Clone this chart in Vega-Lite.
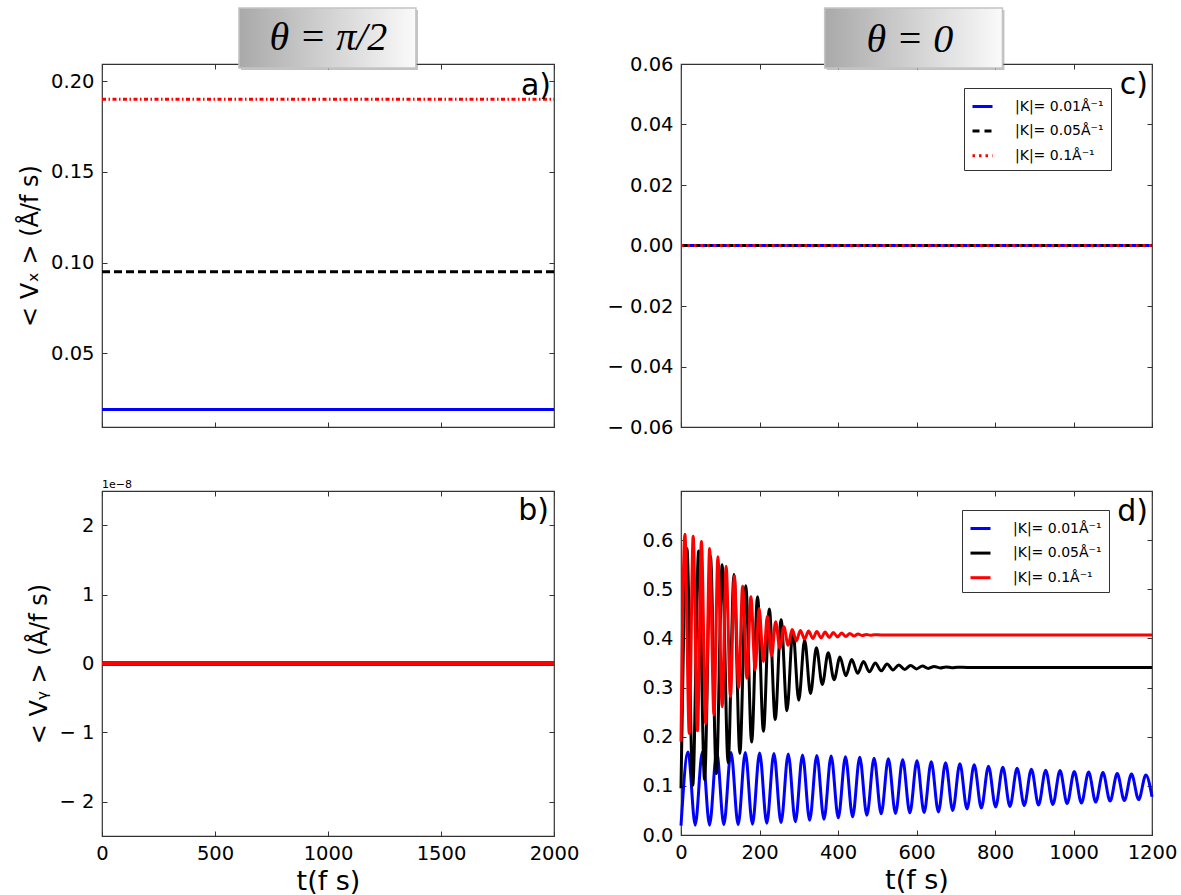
{
  "$schema": "https://vega.github.io/schema/vega-lite/v6.json",
  "background": "white",
  "padding": {"left": 17, "top": 6, "right": 5, "bottom": 0},
  "config": {
    "view": {"stroke": "#333", "strokeWidth": 1.2},
    "axis": {"grid": false, "domain": false, "ticks": true, "tickSize": -5, "tickColor": "#333", "tickWidth": 1, "labelFont": "DejaVu Sans", "labelFontSize": 19.5, "labelColor": "#000", "labelPadding": 13, "labelFlush": false, "labelOverlap": false, "titleFont": "DejaVu Sans", "titleFontWeight": "normal", "titleColor": "#000"},
    "axisBottom": {"labelPadding": 13},
    "text": {"font": "DejaVu Sans"}
  },
  "datasets": {
    "flat": [
      {"p": "a", "k": "0.01", "t": 0, "v": 0.019}, {"p": "a", "k": "0.01", "t": 2000, "v": 0.019},
      {"p": "a", "k": "0.05", "t": 0, "v": 0.095}, {"p": "a", "k": "0.05", "t": 2000, "v": 0.095},
      {"p": "a", "k": "0.1", "t": 0, "v": 0.19}, {"p": "a", "k": "0.1", "t": 2000, "v": 0.19},
      {"p": "b", "k": "0.01", "t": 0, "v": 0}, {"p": "b", "k": "0.01", "t": 2000, "v": 0},
      {"p": "b", "k": "0.05", "t": 0, "v": 0}, {"p": "b", "k": "0.05", "t": 2000, "v": 0},
      {"p": "b", "k": "0.1", "t": 0, "v": 0}, {"p": "b", "k": "0.1", "t": 2000, "v": 0},
      {"p": "c", "k": "0.01", "t": 0, "v": 0}, {"p": "c", "k": "0.01", "t": 1200, "v": 0},
      {"p": "c", "k": "0.05", "t": 0, "v": 0}, {"p": "c", "k": "0.05", "t": 1200, "v": 0},
      {"p": "c", "k": "0.1", "t": 0, "v": 0}, {"p": "c", "k": "0.1", "t": 1200, "v": 0}
    ],
    "dd": [
      {"k": "0.01", "t": 0, "v": 0.019}, {"k": "0.01", "t": 18, "v": 0.169}, {"k": "0.01", "t": 36.2, "v": 0.020}, {"k": "0.01", "t": 54.5, "v": 0.169},
      {"k": "0.01", "t": 72.7, "v": 0.020}, {"k": "0.01", "t": 91, "v": 0.169}, {"k": "0.01", "t": 109.1, "v": 0.021}, {"k": "0.01", "t": 127.4, "v": 0.168},
      {"k": "0.01", "t": 145.6, "v": 0.021}, {"k": "0.01", "t": 163.8, "v": 0.168}, {"k": "0.01", "t": 182, "v": 0.022}, {"k": "0.01", "t": 200.3, "v": 0.167},
      {"k": "0.01", "t": 218.5, "v": 0.024}, {"k": "0.01", "t": 236.7, "v": 0.166}, {"k": "0.01", "t": 254.9, "v": 0.025}, {"k": "0.01", "t": 273.2, "v": 0.165},
      {"k": "0.01", "t": 291.4, "v": 0.027}, {"k": "0.01", "t": 309.6, "v": 0.163}, {"k": "0.01", "t": 327.8, "v": 0.030}, {"k": "0.01", "t": 346, "v": 0.162},
      {"k": "0.01", "t": 364.3, "v": 0.032}, {"k": "0.01", "t": 382.5, "v": 0.161}, {"k": "0.01", "t": 400.7, "v": 0.035}, {"k": "0.01", "t": 419, "v": 0.159},
      {"k": "0.01", "t": 437.2, "v": 0.037}, {"k": "0.01", "t": 455.4, "v": 0.158}, {"k": "0.01", "t": 473.6, "v": 0.040}, {"k": "0.01", "t": 491.9, "v": 0.156},
      {"k": "0.01", "t": 510, "v": 0.043}, {"k": "0.01", "t": 528.3, "v": 0.155}, {"k": "0.01", "t": 546.5, "v": 0.044}, {"k": "0.01", "t": 564.8, "v": 0.153},
      {"k": "0.01", "t": 583, "v": 0.045}, {"k": "0.01", "t": 601.2, "v": 0.151}, {"k": "0.01", "t": 619.4, "v": 0.046}, {"k": "0.01", "t": 637.6, "v": 0.149},
      {"k": "0.01", "t": 655.8, "v": 0.047}, {"k": "0.01", "t": 674.1, "v": 0.147}, {"k": "0.01", "t": 692.3, "v": 0.050}, {"k": "0.01", "t": 710.5, "v": 0.145},
      {"k": "0.01", "t": 728.7, "v": 0.053}, {"k": "0.01", "t": 747, "v": 0.143}, {"k": "0.01", "t": 765.2, "v": 0.055}, {"k": "0.01", "t": 783.4, "v": 0.140},
      {"k": "0.01", "t": 801.6, "v": 0.057}, {"k": "0.01", "t": 819.9, "v": 0.138}, {"k": "0.01", "t": 838, "v": 0.058}, {"k": "0.01", "t": 856.3, "v": 0.136},
      {"k": "0.01", "t": 874.5, "v": 0.060}, {"k": "0.01", "t": 892.7, "v": 0.134}, {"k": "0.01", "t": 911, "v": 0.061}, {"k": "0.01", "t": 929.2, "v": 0.132},
      {"k": "0.01", "t": 947.4, "v": 0.062}, {"k": "0.01", "t": 965.6, "v": 0.131}, {"k": "0.01", "t": 983.8, "v": 0.064}, {"k": "0.01", "t": 1002, "v": 0.129},
      {"k": "0.01", "t": 1020.3, "v": 0.065}, {"k": "0.01", "t": 1038.5, "v": 0.128}, {"k": "0.01", "t": 1056.7, "v": 0.067}, {"k": "0.01", "t": 1075, "v": 0.127},
      {"k": "0.01", "t": 1093.2, "v": 0.069}, {"k": "0.01", "t": 1111.4, "v": 0.125}, {"k": "0.01", "t": 1129.6, "v": 0.070}, {"k": "0.01", "t": 1147.8, "v": 0.124},
      {"k": "0.01", "t": 1166, "v": 0.072}, {"k": "0.01", "t": 1184.4, "v": 0.122}, {"k": "0.01", "t": 1200, "v": 0.078},
      {"k": "0.05", "t": 0, "v": 0.095}, {"k": "0.05", "t": 15, "v": 0.583}, {"k": "0.05", "t": 30, "v": 0.101}, {"k": "0.05", "t": 45, "v": 0.578},
      {"k": "0.05", "t": 60, "v": 0.113}, {"k": "0.05", "t": 75, "v": 0.567}, {"k": "0.05", "t": 90, "v": 0.125}, {"k": "0.05", "t": 105, "v": 0.550},
      {"k": "0.05", "t": 120, "v": 0.147}, {"k": "0.05", "t": 135, "v": 0.530}, {"k": "0.05", "t": 150, "v": 0.166}, {"k": "0.05", "t": 165, "v": 0.507},
      {"k": "0.05", "t": 180, "v": 0.189}, {"k": "0.05", "t": 195, "v": 0.485}, {"k": "0.05", "t": 210, "v": 0.211}, {"k": "0.05", "t": 225, "v": 0.460},
      {"k": "0.05", "t": 240, "v": 0.235}, {"k": "0.05", "t": 255, "v": 0.438}, {"k": "0.05", "t": 270, "v": 0.253}, {"k": "0.05", "t": 285, "v": 0.416},
      {"k": "0.05", "t": 300, "v": 0.274}, {"k": "0.05", "t": 315, "v": 0.397}, {"k": "0.05", "t": 330, "v": 0.288}, {"k": "0.05", "t": 345, "v": 0.381},
      {"k": "0.05", "t": 360, "v": 0.306}, {"k": "0.05", "t": 375, "v": 0.371}, {"k": "0.05", "t": 390, "v": 0.316}, {"k": "0.05", "t": 405, "v": 0.362},
      {"k": "0.05", "t": 420, "v": 0.324}, {"k": "0.05", "t": 435, "v": 0.357}, {"k": "0.05", "t": 450, "v": 0.329}, {"k": "0.05", "t": 465, "v": 0.353},
      {"k": "0.05", "t": 480, "v": 0.332}, {"k": "0.05", "t": 495, "v": 0.350}, {"k": "0.05", "t": 510, "v": 0.334}, {"k": "0.05", "t": 525, "v": 0.348},
      {"k": "0.05", "t": 540, "v": 0.336}, {"k": "0.05", "t": 555, "v": 0.346}, {"k": "0.05", "t": 570, "v": 0.337}, {"k": "0.05", "t": 585, "v": 0.345},
      {"k": "0.05", "t": 600, "v": 0.338}, {"k": "0.05", "t": 615, "v": 0.344}, {"k": "0.05", "t": 630, "v": 0.339}, {"k": "0.05", "t": 645, "v": 0.343},
      {"k": "0.05", "t": 660, "v": 0.340}, {"k": "0.05", "t": 675, "v": 0.342}, {"k": "0.05", "t": 690, "v": 0.3405}, {"k": "0.05", "t": 705, "v": 0.3415},
      {"k": "0.05", "t": 730, "v": 0.341}, {"k": "0.05", "t": 1200, "v": 0.341},
      {"k": "0.1", "t": 0, "v": 0.190}, {"k": "0.1", "t": 10, "v": 0.612}, {"k": "0.1", "t": 21, "v": 0.207}, {"k": "0.1", "t": 31, "v": 0.608},
      {"k": "0.1", "t": 42, "v": 0.212}, {"k": "0.1", "t": 52, "v": 0.597}, {"k": "0.1", "t": 63, "v": 0.227}, {"k": "0.1", "t": 73, "v": 0.583},
      {"k": "0.1", "t": 84, "v": 0.244}, {"k": "0.1", "t": 94, "v": 0.566}, {"k": "0.1", "t": 105, "v": 0.261}, {"k": "0.1", "t": 115, "v": 0.547},
      {"k": "0.1", "t": 126, "v": 0.281}, {"k": "0.1", "t": 136, "v": 0.527}, {"k": "0.1", "t": 147, "v": 0.300}, {"k": "0.1", "t": 157, "v": 0.506},
      {"k": "0.1", "t": 168, "v": 0.319}, {"k": "0.1", "t": 178, "v": 0.485}, {"k": "0.1", "t": 189, "v": 0.336}, {"k": "0.1", "t": 199, "v": 0.461},
      {"k": "0.1", "t": 210, "v": 0.353}, {"k": "0.1", "t": 220, "v": 0.445}, {"k": "0.1", "t": 231, "v": 0.365}, {"k": "0.1", "t": 241, "v": 0.434},
      {"k": "0.1", "t": 252, "v": 0.380}, {"k": "0.1", "t": 262, "v": 0.424}, {"k": "0.1", "t": 273, "v": 0.386}, {"k": "0.1", "t": 283, "v": 0.418},
      {"k": "0.1", "t": 294, "v": 0.395}, {"k": "0.1", "t": 304, "v": 0.416}, {"k": "0.1", "t": 315, "v": 0.399}, {"k": "0.1", "t": 325, "v": 0.415},
      {"k": "0.1", "t": 336, "v": 0.400}, {"k": "0.1", "t": 346, "v": 0.414}, {"k": "0.1", "t": 357, "v": 0.401}, {"k": "0.1", "t": 367, "v": 0.413},
      {"k": "0.1", "t": 378, "v": 0.402}, {"k": "0.1", "t": 388, "v": 0.412}, {"k": "0.1", "t": 399, "v": 0.403}, {"k": "0.1", "t": 409, "v": 0.411},
      {"k": "0.1", "t": 420, "v": 0.404}, {"k": "0.1", "t": 430, "v": 0.410}, {"k": "0.1", "t": 441, "v": 0.405}, {"k": "0.1", "t": 451, "v": 0.409},
      {"k": "0.1", "t": 462, "v": 0.406}, {"k": "0.1", "t": 472, "v": 0.408}, {"k": "0.1", "t": 483, "v": 0.4065}, {"k": "0.1", "t": 493, "v": 0.4075},
      {"k": "0.1", "t": 510, "v": 0.407}, {"k": "0.1", "t": 1200, "v": 0.407}
    ]
  },
  "columns": 2,
  "spacing": {"row": 64, "column": 127},
  "bounds": "flush",
  "resolve": {"scale": {"x": "independent", "y": "independent", "color": "independent", "strokeDash": "independent", "strokeWidth": "independent"}, "legend": {"color": "independent", "strokeDash": "independent"}},
  "concat": [
    {
      "width": 452, "height": 363,
      "layer": [
        {"data": {"values": [{}]}, "mark": {"type": "rect", "color": "#777777", "opacity": 0.45},
         "encoding": {"x": {"datum": 615, "type": "quantitative", "axis": null}, "x2": {"datum": 1398}, "y": {"datum": 0.2061, "type": "quantitative", "axis": null}, "y2": {"datum": 0.2392}}},
        {"data": {"values": [{}]}, "mark": {"type": "rect", "fill": {"gradient": "linear", "x1": 0, "y1": 0, "x2": 1, "y2": 0, "stops": [{"offset": 0, "color": "#a9a9a9"}, {"offset": 1, "color": "#fafafa"}]}, "stroke": "#c4c4c4", "strokeWidth": 1.5},
         "encoding": {"x": {"datum": 606, "type": "quantitative", "axis": null}, "x2": {"datum": 1389}, "y": {"datum": 0.2072, "type": "quantitative", "axis": null}, "y2": {"datum": 0.2403}}},
        {"data": {"values": [{}]}, "mark": {"type": "text", "text": "θ = π/2", "font": "Liberation Serif", "fontStyle": "italic", "fontSize": 40, "align": "center", "baseline": "middle", "color": "#000"},
         "encoding": {"x": {"datum": 1002, "type": "quantitative", "axis": null}, "y": {"datum": 0.2237, "type": "quantitative", "axis": null}}},
        {"data": {"name": "flat"}, "transform": [{"filter": "datum.p === 'a'"}],
         "mark": {"type": "line", "strokeWidth": 3},
         "encoding": {
           "x": {"field": "t", "type": "quantitative", "scale": {"domain": [0, 2000], "nice": false}, "axis": {"orient": "bottom", "values": [0, 500, 1000, 1500, 2000], "labels": false, "title": null}},
           "y": {"field": "v", "type": "quantitative", "scale": {"domain": [0.0094, 0.2094], "nice": false, "zero": false}, "axis": {"orient": "left", "values": [0.05, 0.1, 0.15, 0.2], "format": ".2f", "title": "< Vₓ > (Å/f s)", "titleFontSize": 24, "titlePadding": 8}},
           "color": {"field": "k", "type": "nominal", "scale": {"domain": ["0.01", "0.05", "0.1"], "range": ["#0000ff", "#000000", "#ff0000"]}, "legend": null},
           "strokeDash": {"field": "k", "type": "nominal", "scale": {"domain": ["0.01", "0.05", "0.1"], "range": [[1, 0], [8, 4], [4, 2.5, 1.5, 2.5]]}, "legend": null}
         }},
        {"data": {"name": "flat"}, "transform": [{"filter": "datum.p === 'a'"}],
         "mark": {"type": "line", "opacity": 0},
         "encoding": {
           "x": {"field": "t", "type": "quantitative", "axis": {"orient": "top", "values": [0, 500, 1000, 1500, 2000], "labels": false, "title": null}},
           "y": {"field": "v", "type": "quantitative", "axis": {"orient": "right", "values": [0.05, 0.1, 0.15, 0.2], "labels": false, "title": null}}
         }},
        {"data": {"values": [{}]}, "mark": {"type": "text", "text": "a)", "fontSize": 30, "align": "right", "baseline": "alphabetic", "color": "#000"},
         "encoding": {"x": {"datum": 1987, "type": "quantitative", "axis": null}, "y": {"datum": 0.1923, "type": "quantitative", "axis": null}}}
      ],
      "resolve": {"axis": {"x": "independent", "y": "independent"}}
    },
    {
      "width": 471, "height": 363,
      "layer": [
        {"data": {"values": [{}]}, "mark": {"type": "rect", "color": "#777777", "opacity": 0.45},
         "encoding": {"x": {"datum": 371, "type": "quantitative", "axis": null}, "x2": {"datum": 824}, "y": {"datum": 0.05802, "type": "quantitative", "axis": null}, "y2": {"datum": 0.07785}}},
        {"data": {"values": [{}]}, "mark": {"type": "rect", "fill": {"gradient": "linear", "x1": 0, "y1": 0, "x2": 1, "y2": 0, "stops": [{"offset": 0, "color": "#a9a9a9"}, {"offset": 1, "color": "#fafafa"}]}, "stroke": "#c4c4c4", "strokeWidth": 1.5},
         "encoding": {"x": {"datum": 366, "type": "quantitative", "axis": null}, "x2": {"datum": 819}, "y": {"datum": 0.05868, "type": "quantitative", "axis": null}, "y2": {"datum": 0.07851}}},
        {"data": {"values": [{}]}, "mark": {"type": "text", "text": "θ = 0", "font": "Liberation Serif", "fontStyle": "italic", "fontSize": 40, "align": "center", "baseline": "middle", "color": "#000"},
         "encoding": {"x": {"datum": 583, "type": "quantitative", "axis": null}, "y": {"datum": 0.0679, "type": "quantitative", "axis": null}}},
        {"data": {"name": "flat"}, "transform": [{"filter": "datum.p === 'c'"}],
         "mark": {"type": "line", "strokeWidth": 3},
         "encoding": {
           "x": {"field": "t", "type": "quantitative", "scale": {"domain": [0, 1200], "nice": false}, "axis": {"orient": "bottom", "values": [0, 200, 400, 600, 800, 1000, 1200], "labels": false, "title": null}},
           "y": {"field": "v", "type": "quantitative", "scale": {"domain": [-0.06, 0.06], "nice": false, "zero": false}, "axis": {"orient": "left", "values": [-0.06, -0.04, -0.02, 0, 0.02, 0.04, 0.06], "labelExpr": "datum.value < -0.0001 ? '− ' + format(-datum.value, '.2f') : format(abs(datum.value), '.2f')", "title": null}},
           "color": {"field": "k", "type": "nominal", "scale": {"domain": ["0.01", "0.05", "0.1"], "range": ["#0000ff", "#000000", "#ff0000"]},
             "legend": {"title": null, "orient": "none", "legendX": 283, "legendY": 24, "symbolType": "stroke", "symbolStrokeWidth": 3, "symbolSize": 400, "labelFontSize": 14, "labelFont": "DejaVu Sans", "labelColor": "#000", "labelOffset": 21, "padding": 7, "rowPadding": 5.6, "strokeColor": "#333", "fillColor": "#ffffff", "cornerRadius": 0, "labelExpr": "'|K|= ' + datum.label + 'Å⁻¹'"}},
           "strokeDash": {"field": "k", "type": "nominal", "scale": {"domain": ["0.01", "0.05", "0.1"], "range": [[1, 0], [7, 5], [2.5, 4]]},
             "legend": {"title": null, "orient": "none", "legendX": 283, "legendY": 24, "symbolType": "stroke", "symbolStrokeWidth": 3, "symbolSize": 400, "labelFontSize": 14, "labelFont": "DejaVu Sans", "labelColor": "#000", "labelOffset": 21, "padding": 7, "rowPadding": 5.6, "strokeColor": "#333", "fillColor": "#ffffff", "cornerRadius": 0, "labelExpr": "'|K|= ' + datum.label + 'Å⁻¹'"}}
         }},
        {"data": {"name": "flat"}, "transform": [{"filter": "datum.p === 'c'"}],
         "mark": {"type": "line", "opacity": 0},
         "encoding": {
           "x": {"field": "t", "type": "quantitative", "axis": {"orient": "top", "values": [0, 200, 400, 600, 800, 1000, 1200], "labels": false, "title": null}},
           "y": {"field": "v", "type": "quantitative", "axis": {"orient": "right", "values": [-0.06, -0.04, -0.02, 0, 0.02, 0.04, 0.06], "labels": false, "title": null}}
         }},
        {"data": {"values": [{}]}, "mark": {"type": "text", "text": "c)", "fontSize": 30, "align": "right", "baseline": "alphabetic", "color": "#000"},
         "encoding": {"x": {"datum": 1190, "type": "quantitative", "axis": null}, "y": {"datum": 0.0502, "type": "quantitative", "axis": null}}}
      ],
      "resolve": {"axis": {"x": "independent", "y": "independent"}}
    },
    {
      "width": 452, "height": 345,
      "title": {"text": "1e−8", "anchor": "start", "frame": "group", "fontSize": 11, "fontWeight": "normal", "font": "DejaVu Sans", "offset": 1, "color": "#000"},
      "layer": [
        {"data": {"name": "flat"}, "transform": [{"filter": "datum.p === 'b'"}],
         "mark": {"type": "line"},
         "encoding": {
           "x": {"field": "t", "type": "quantitative", "scale": {"domain": [0, 2000], "nice": false}, "axis": {"orient": "bottom", "values": [0, 500, 1000, 1500, 2000], "format": "d", "title": "t(f s)", "titleFontSize": 27, "titlePadding": 6}},
           "y": {"field": "v", "type": "quantitative", "scale": {"domain": [-2.5, 2.5], "nice": false}, "axis": {"orient": "left", "values": [-2, -1, 0, 1, 2], "labelExpr": "datum.value < 0 ? '− ' + format(-datum.value, 'd') : format(datum.value, 'd')", "title": "< Vᵧ > (Å/f s)", "titleFontSize": 24, "titlePadding": 8}},
           "color": {"field": "k", "type": "nominal", "scale": {"domain": ["0.01", "0.05", "0.1"], "range": ["#0000ff", "#000000", "#ff0000"]}, "legend": null},
           "strokeWidth": {"field": "k", "type": "ordinal", "scale": {"domain": ["0.01", "0.05", "0.1"], "range": [4, 4.5, 3]}, "legend": null}
         }},
        {"data": {"name": "flat"}, "transform": [{"filter": "datum.p === 'b'"}],
         "mark": {"type": "line", "opacity": 0},
         "encoding": {
           "x": {"field": "t", "type": "quantitative", "axis": {"orient": "top", "values": [0, 500, 1000, 1500, 2000], "labels": false, "title": null}},
           "y": {"field": "v", "type": "quantitative", "axis": {"orient": "right", "values": [-2, -1, 0, 1, 2], "labels": false, "title": null}}
         }},
        {"data": {"values": [{}]}, "mark": {"type": "text", "text": "b)", "fontSize": 30, "align": "right", "baseline": "alphabetic", "color": "#000"},
         "encoding": {"x": {"datum": 1978, "type": "quantitative", "axis": null}, "y": {"datum": 2.08, "type": "quantitative", "axis": null}}}
      ],
      "resolve": {"axis": {"x": "independent", "y": "independent"}}
    },
    {
      "width": 471, "height": 344,
      "layer": [
        {"data": {"name": "dd"},
         "mark": {"type": "line", "strokeWidth": 3, "interpolate": "monotone"},
         "encoding": {
           "x": {"field": "t", "type": "quantitative", "scale": {"domain": [0, 1200], "nice": false}, "axis": {"orient": "bottom", "values": [0, 200, 400, 600, 800, 1000, 1200], "format": "d", "title": "t(f s)", "titleFontSize": 27, "titlePadding": 6}},
           "y": {"field": "v", "type": "quantitative", "scale": {"domain": [0, 0.7], "nice": false}, "axis": {"orient": "left", "values": [0, 0.1, 0.2, 0.3, 0.4, 0.5, 0.6], "format": ".1f", "title": null}},
           "color": {"field": "k", "type": "nominal", "scale": {"domain": ["0.01", "0.05", "0.1"], "range": ["#0000ff", "#000000", "#ff0000"]},
             "legend": {"title": null, "orient": "none", "legendX": 281, "legendY": 19, "symbolType": "stroke", "symbolStrokeWidth": 3, "symbolSize": 400, "labelFontSize": 14, "labelFont": "DejaVu Sans", "labelColor": "#000", "labelOffset": 21, "padding": 7, "rowPadding": 5.6, "strokeColor": "#333", "fillColor": "#ffffff", "cornerRadius": 0, "labelExpr": "'|K|= ' + datum.label + 'Å⁻¹'"}}
         }},
        {"data": {"name": "dd"},
         "mark": {"type": "line", "opacity": 0},
         "encoding": {
           "x": {"field": "t", "type": "quantitative", "axis": {"orient": "top", "values": [0, 200, 400, 600, 800, 1000, 1200], "labels": false, "title": null}},
           "y": {"field": "v", "type": "quantitative", "axis": {"orient": "right", "values": [0, 0.1, 0.2, 0.3, 0.4, 0.5, 0.6], "labels": false, "title": null}}
         }},
        {"data": {"values": [{}]}, "mark": {"type": "text", "text": "d)", "fontSize": 30, "align": "right", "baseline": "alphabetic", "color": "#000"},
         "encoding": {"x": {"datum": 1190, "type": "quantitative", "axis": null}, "y": {"datum": 0.639, "type": "quantitative", "axis": null}}}
      ],
      "resolve": {"axis": {"x": "independent", "y": "independent"}}
    }
  ]
}
